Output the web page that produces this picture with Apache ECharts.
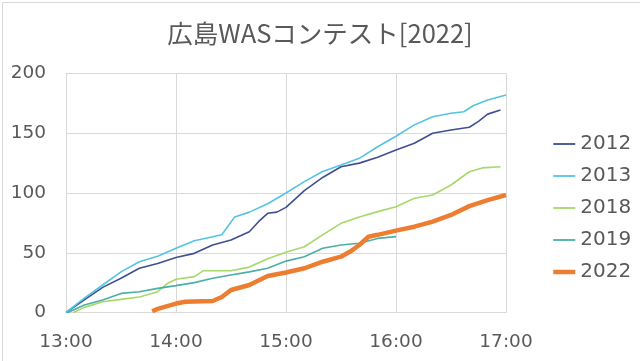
<!DOCTYPE html>
<html>
<head>
<meta charset="utf-8">
<script src="https://cdn.jsdelivr.net/npm/echarts@6/dist/echarts.min.js"></script>
<style>
html,body{margin:0;padding:0;background:#fff;}
#chart{width:640px;height:361px;}
</style>
</head>
<body>
<div id="chart"></div>
<script>
const titleText = "広島WASコンテスト[2022]";
const xTickLabels = ["13:00", "14:00", "15:00", "16:00", "17:00"];
const seriesNames = ["2012", "2013", "2018", "2019", "2022"];

// [minutes since 13:00, cumulative count]
const s2012 = [[0,0],[10,10.5],[20,21],[30,28.6],[40,37],[50,41],[60,46],[70,49.5],[80,56.5],[90,60.7],[100,67.6],[105,76],[110,83],[115,84],[120,88],[130,102],[140,113],[150,122],[160,125],[170,130],[180,136],[190,141.6],[200,150],[210,152.7],[220,155],[225,160],[230,166],[237,169.5]];
const s2013 = [[0,0],[10,12],[20,23],[30,34],[40,42.5],[50,47],[60,53.7],[70,60],[80,63.4],[85,65],[92,80],[100,84],[110,91],[120,100],[130,109.5],[140,118],[150,123.4],[160,129],[170,138.7],[180,147.5],[190,157],[200,163.8],[210,166.7],[217,168],[222,173],[230,177.8],[240,182]];
const s2018 = [[4,0],[10,4.3],[20,9],[30,11],[40,13],[50,17.4],[55,24],[60,27.8],[70,30],[75,35],[90,35],[100,38],[110,45],[120,50.5],[130,55],[140,65],[150,74.6],[160,80],[170,84.4],[180,88.5],[190,95.6],[200,98.3],[210,106.7],[220,117.8],[227,121],[237,122]];
const s2019 = [[1,0],[10,6.3],[20,10.5],[30,16],[40,17.4],[50,20.2],[60,22.5],[70,25],[80,28.6],[90,31.4],[100,34],[110,37],[120,43],[130,46.7],[140,53.7],[150,56.5],[160,58],[170,62],[180,63.5]];
const s2022 = [[47,1],[50,3],[60,7.5],[65,9],[80,9.6],[85,13],[90,18.8],[100,23],[110,30.5],[120,33.5],[130,37],[140,42.5],[150,46.7],[155,51],[160,56.5],[165,63.4],[170,65],[180,68.5],[190,71.8],[200,76],[210,81.6],[220,89],[230,94],[240,98.3]];

const seriesData = [s2012, s2013, s2018, s2019, s2022];
const colors = ["#3f4f8f", "#55c3e2", "#a6d86a", "#4aafa6", "#ed7d31"];
const widths = [1.6, 1.6, 1.6, 1.6, 4.5];

const chart = echarts.init(document.getElementById('chart'), null, {renderer: 'canvas'});
const font = "DejaVu Sans";
chart.setOption({
  animation: false,
  backgroundColor: '#ffffff',
  title: {
    text: titleText,
    left: 'center',
    top: 16,
    textStyle: {fontFamily: "Noto Sans CJK JP", fontSize: 25.5, fontWeight: 'normal', color: '#595959'}
  },
  graphic: [{
    type: 'rect', left: 0, top: 0, silent: true,
    shape: {x: 0.5, y: 0.5, width: 639, height: 360},
    style: {fill: 'none', stroke: '#d9d9d9', lineWidth: 1}
  }],
  grid: {left: 66, right: 134, top: 73.5, bottom: 48.5, containLabel: false},
  legend: {
    orient: 'vertical',
    left: 546,
    top: 129,
    itemWidth: 22,
    itemHeight: 14,
    itemGap: 12,
    data: seriesNames.map((n, i) => ({name: n, lineStyle: {color: colors[i], width: i === 4 ? 4.5 : 1.8}})),
    itemStyle: {color: 'rgba(0,0,0,0)', borderColor: 'rgba(0,0,0,0)', borderWidth: 0, opacity: 0},
    textStyle: {fontFamily: font, fontSize: 20, color: '#595959', lineHeight: 20}
  },
  xAxis: {
    type: 'value', min: 0, max: 240, interval: 60,
    axisLine: {show: true, lineStyle: {color: '#d9d9d9'}},
    axisTick: {show: false},
    splitLine: {show: true, lineStyle: {color: '#d9d9d9'}},
    axisLabel: {
      fontFamily: font, fontSize: 18.5, color: '#595959', margin: 20,
      formatter: v => xTickLabels[Math.round(v / 60)]
    }
  },
  yAxis: {
    type: 'value', min: 0, max: 200, interval: 50,
    axisLine: {show: false},
    axisTick: {show: false},
    splitLine: {show: true, lineStyle: {color: '#d9d9d9'}},
    axisLabel: {fontFamily: font, fontSize: 18.5, color: '#595959', margin: 20}
  },
  series: seriesNames.map((n, i) => ({
    name: n,
    type: 'line',
    data: seriesData[i],
    symbol: 'none',
    showSymbol: false,
    color: colors[i],
    lineStyle: {color: colors[i], width: widths[i]},
    z: i === 4 ? 5 : 2
  }))
});
</script>
</body>
</html>
